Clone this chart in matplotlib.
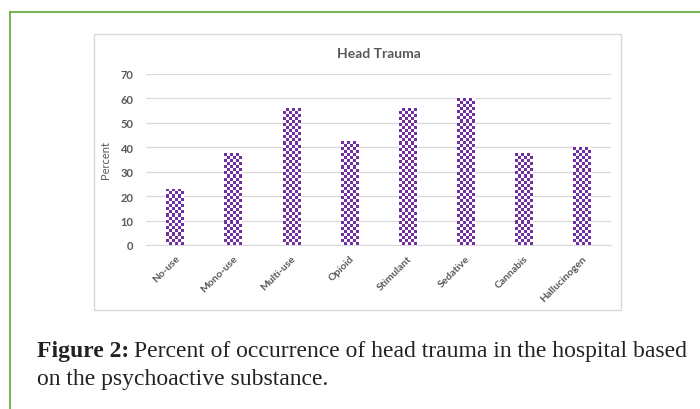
import numpy as np
import matplotlib
matplotlib.use("Agg")
from matplotlib import pyplot as plt
from matplotlib.lines import Line2D
from matplotlib.patches import Rectangle
from matplotlib.colors import ListedColormap

categories = ["No-use", "Mono-use", "Multi-use", "Opioid", "Stimulant",
              "Sedative", "Cannabis", "Hallucinogen"]
percent = [23, 37.5, 56, 42.5, 56, 60, 37.5, 40]
y_ticks = [0, 10, 20, 30, 40, 50, 60, 70]

purple = "#7030A0"
grey_text = "#595959"
grid_grey = "#d9d9d9"

W, H = 700, 410
fig = plt.figure(figsize=(7, 4.1), dpi=100)
fig.patch.set_facecolor("white")


def px(x, y):
    return x / W, 1 - y / H


# green frame around the figure panel
green = "#6aaf45"
fig.add_artist(Line2D([10 / W, 1], [1 - 12.5 / H] * 2, color=green, lw=1.3))
fig.add_artist(Line2D([10 / W] * 2, [0, 1 - 12.5 / H], color=green, lw=1.3))

# chart area box
x0, y0 = px(94, 311)
x1, y1 = px(621, 35)
fig.add_artist(Rectangle((x0, y0), x1 - x0, y1 - y0, transform=fig.transFigure,
                         facecolor="none", edgecolor=grid_grey, lw=1.0))

left, bottom = px(146, 246)
right, top = px(611, 75)
ax = fig.add_axes([left, bottom, right - left, top - bottom])
ax.set_facecolor("none")

xpos = np.arange(len(categories))
bar_w = 0.3
bars = ax.bar(xpos, percent, width=bar_w, color="white", edgecolor="none", zorder=2)

# checkerboard fill, clipped to each bar
cmap = ListedColormap(["white", purple])
cell_h = 1.25
for b in bars:
    bx, bw, bh = b.get_x(), b.get_width(), b.get_height()
    nrows = max(1, int(round(bh / cell_h)))
    ncols = 6
    checker = (np.add.outer(np.arange(nrows), np.arange(ncols)) % 2)
    im = ax.imshow(checker, cmap=cmap, interpolation="nearest", aspect="auto",
                   extent=(bx, bx + bw, 0, bh), origin="lower", zorder=3)
    im.set_clip_path(b)
ax.set_xlim(-0.5, len(categories) - 0.5)
ax.set_ylim(0, 70)

ax.set_yticks(y_ticks)
ax.yaxis.grid(True, color=grid_grey, lw=0.9)
ax.set_axisbelow(True)
for s in ["top", "right", "left"]:
    ax.spines[s].set_visible(False)
ax.spines["bottom"].set_color(grid_grey)
ax.tick_params(axis="both", length=0, colors=grey_text, labelsize=8)
ax.tick_params(axis="y", pad=9)
for t in ax.get_yticklabels():
    t.set_fontweight("bold")
    t.set_fontfamily("Lato")

ax.set_xticks(xpos)
ax.set_xticklabels(categories, rotation=45, ha="right", rotation_mode="anchor",
                   fontfamily="Lato", fontweight="bold", fontsize=7.5, color=grey_text)
ax.tick_params(axis="x", pad=6)

ax.set_ylabel("Percent", fontfamily="Lato", fontsize=8, color=grey_text, labelpad=7)
ax.set_title("Head Trauma", fontfamily="Lato", fontweight="bold", fontsize=10,
             color=grey_text, pad=12)

# caption below the chart
fig.canvas.draw()
renderer = fig.canvas.get_renderer()
cap_x, cap_y = px(37, 352)
cap_size = 17
lbl = fig.text(cap_x, cap_y, "Figure 2:", fontfamily="Liberation Serif",
               fontweight="bold", fontsize=cap_size, va="center", color="#222222")
ext = lbl.get_window_extent(renderer)
fig.text(ext.x1 / fig.bbox.width + 5 / W, cap_y,
         "Percent of occurrence of head trauma in the hospital based",
         fontfamily="Liberation Serif", fontsize=cap_size, va="center", color="#222222")
fig.text(cap_x, px(0, 380)[1], "on the psychoactive substance.",
         fontfamily="Liberation Serif", fontsize=cap_size, va="center", color="#222222")

fig.savefig("out.png", dpi=100, facecolor="white")
